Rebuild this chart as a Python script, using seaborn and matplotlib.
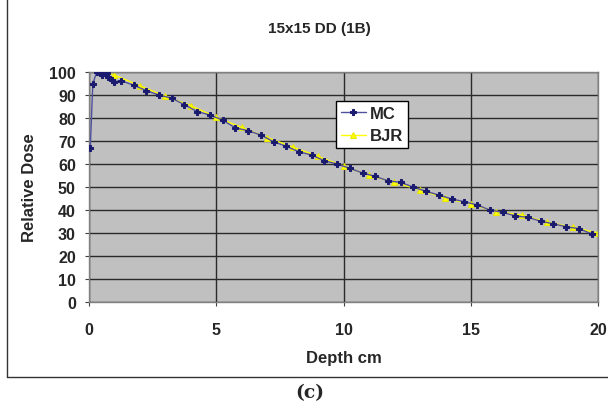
import numpy as np
import pandas as pd
import matplotlib
matplotlib.use("Agg")
import matplotlib.pyplot as plt
from matplotlib.lines import Line2D
import seaborn as sns

# ─── Data ────────────────────────────────────────────────────────────────────
mc_depth = [0.05, 0.15, 0.3, 0.45, 0.5, 0.7, 0.75, 0.9, 1.0, 1.25, 1.75, 2.25,
            2.75, 3.25, 3.75, 4.25, 4.75, 5.25, 5.75, 6.25, 6.75, 7.25, 7.75,
            8.25, 8.75, 9.25, 9.75, 10.25, 10.75, 11.25, 11.75, 12.25, 12.75,
            13.25, 13.75, 14.25, 14.75, 15.25, 15.75, 16.25, 16.75, 17.25,
            17.75, 18.25, 18.75, 19.25, 19.75]
mc_dose = [67, 94.8, 100, 100, 98.7, 99.6, 97.7, 96.7, 95.8, 96.2, 94.3, 91.9,
           90, 88.6, 85.8, 82.8, 81.3, 79.1, 75.7, 74.5, 72.6, 69.7, 67.7,
           65.3, 63.9, 61.4, 60, 58.1, 56.1, 54.6, 52.7, 52, 49.9,
           48.1, 46.5, 44.8, 43.6, 42.2, 40, 39, 37.4, 36.8,
           35.1, 34, 32.7, 31.9, 29.6]

bjr_depth = [0.5, 1, 2, 3, 4, 5, 6, 7, 8, 9, 10, 11, 12, 13, 14, 15, 16, 17,
             18, 19, 20]
bjr_dose = [100, 98.7, 94, 89.4, 85.4, 80.3, 75.9, 71.5, 67.4, 63.3, 59.1,
            55.1, 52, 48.8, 45.1, 42.6, 39.3, 37.8, 34.7, 32.5, 30]

x_ticks = [0, 5, 10, 15, 20]
y_ticks = list(range(0, 101, 10))

mc = pd.DataFrame({"Depth": mc_depth, "Dose": mc_dose})
bjr = pd.DataFrame({"Depth": bjr_depth, "Dose": bjr_dose})

sns.set_style("white")
plt.rcParams["font.family"] = ["Liberation Sans", "DejaVu Sans"]

fig = plt.figure(figsize=(6.08, 4.10), dpi=100)
fig.patch.set_facecolor("white")
ax = fig.add_axes([89 / 608, 1 - 303 / 410, 509 / 608, 230 / 410])
ax.set_facecolor("#C0C0C0")

sns.lineplot(data=mc, x="Depth", y="Dose", ax=ax, sort=False, estimator=None,
             color="#5050A0", linewidth=1.0, marker="P", markersize=5,
             markerfacecolor="#1A1A6E", markeredgecolor="#1A1A6E",
             label="MC", zorder=3)
sns.lineplot(data=bjr, x="Depth", y="Dose", ax=ax, sort=False, estimator=None,
             color="#FFFF00", linewidth=1.0, marker="^", markersize=5,
             markerfacecolor="#FFFF00", markeredgecolor="#E8E800",
             label="BJR", zorder=2)

ax.set_xlim(0, 20)
ax.set_ylim(0, 100)
ax.set_xticks(x_ticks)
ax.set_yticks(y_ticks)
ax.set_xticklabels([str(t) for t in x_ticks], fontsize=11.5, fontweight="bold")
ax.set_yticklabels([str(t) for t in y_ticks], fontsize=11.5, fontweight="bold")
ax.tick_params(axis="both", direction="out", length=3, width=0.8,
               color="#404040", bottom=True, left=True)
ax.tick_params(axis="y", pad=6.5)
ax.tick_params(axis="x", pad=11.5)
ax.grid(True, color="#2a2a2a", linewidth=1.0, zorder=0)
ax.set_axisbelow(True)
for spine in ax.spines.values():
    spine.set_edgecolor("#808080")
    spine.set_linewidth(1.0)

ax.set_xlabel("Depth cm", fontsize=12, fontweight="bold")
ax.set_ylabel("Relative Dose", fontsize=12, fontweight="bold")
ax.xaxis.set_label_coords((344 - 89) / 509, -(351 - 303) / 230)
ax.yaxis.set_label_coords(-(89 - 37) / 509, 0.5)

leg = ax.legend(loc="upper left", bbox_to_anchor=(0.485, 0.874),
                borderaxespad=0, frameon=True, fancybox=False, framealpha=1,
                edgecolor="black", prop={"weight": "bold", "size": 12},
                handlelength=1.5, handletextpad=0.25, borderpad=0.3,
                labelspacing=0.45)
leg.get_frame().set_linewidth(1.0)

fig.text(319 / 608, 1 - 29 / 410, "15x15 DD (1B)", ha="center", va="center",
         fontsize=11, fontweight="bold")
fig.text(310 / 608, 1 - 393 / 410, "(c)", ha="center", va="center",
         fontsize=13.5, fontweight="bold", family=["DejaVu Serif"])

# outer chart frame
fig.add_artist(Line2D([7 / 608, 7 / 608], [1.0, 1 - 378 / 410],
                      color="#333333", linewidth=1.0))
fig.add_artist(Line2D([7 / 608, 1.0], [1 - 378 / 410, 1 - 378 / 410],
                      color="#333333", linewidth=1.0))

fig.savefig("out.png", dpi=100)
plt.close(fig)
